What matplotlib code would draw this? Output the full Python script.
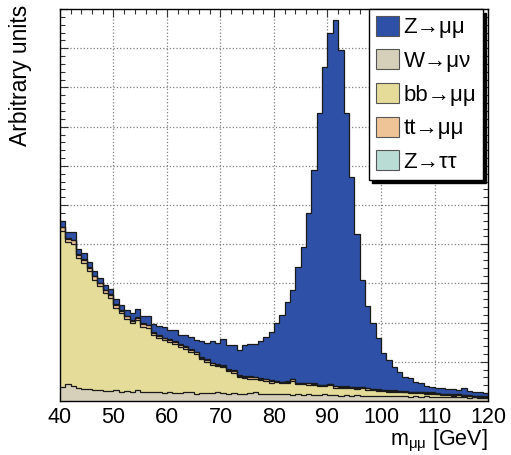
import numpy as np
import matplotlib
matplotlib.use("Agg")
import matplotlib.pyplot as plt
from matplotlib.patches import Patch
from matplotlib.ticker import MultipleLocator

plt.rcParams['font.family'] = ['Liberation Sans', 'DejaVu Sans']
plt.rcParams['mathtext.default'] = 'regular'

# bin edges, 1 GeV bins from 40 to 120
edges = np.arange(40, 121, 1)

# per-bin contents (arbitrary units)
w_munu = [0.36, 0.43, 0.39, 0.32, 0.31, 0.30, 0.28, 0.29, 0.26, 0.25,
          0.27, 0.24, 0.25, 0.23, 0.27, 0.24, 0.23, 0.22, 0.22, 0.21,
          0.22, 0.21, 0.20, 0.22, 0.23, 0.19, 0.20, 0.20, 0.21, 0.24,
          0.20, 0.19, 0.20, 0.18, 0.19, 0.20, 0.22, 0.18, 0.19, 0.18,
          0.18, 0.17, 0.18, 0.16, 0.17, 0.16, 0.17, 0.15, 0.16, 0.18,
          0.15, 0.16, 0.14, 0.15, 0.14, 0.15, 0.13, 0.14, 0.13, 0.14,
          0.13, 0.12, 0.13, 0.12, 0.14, 0.11, 0.12, 0.11, 0.12, 0.10,
          0.11, 0.10, 0.11, 0.09, 0.10, 0.09, 0.08, 0.09, 0.08, 0.07]

bb_mumu = [3.98, 3.62, 3.62, 3.33, 3.22, 3.02, 2.82, 2.64, 2.49, 2.38,
           2.11, 2.00, 1.85, 1.76, 1.80, 1.66, 1.64, 1.47, 1.39, 1.34,
           1.28, 1.24, 1.18, 1.11, 1.02, 1.01, 0.86, 0.80, 0.71, 0.65,
           0.66, 0.57, 0.52, 0.42, 0.39, 0.37, 0.34, 0.35, 0.32, 0.29,
           0.30, 0.28, 0.28, 0.36, 0.26, 0.27, 0.25, 0.26, 0.22, 0.19,
           0.25, 0.18, 0.19, 0.18, 0.18, 0.16, 0.19, 0.15, 0.14, 0.12,
           0.12, 0.12, 0.11, 0.11, 0.08, 0.10, 0.08, 0.09, 0.07, 0.09,
           0.06, 0.06, 0.05, 0.05, 0.05, 0.04, 0.04, 0.02, 0.02, 0.02]

tt_mumu = [0.09, 0.09, 0.09, 0.08, 0.08, 0.08, 0.08, 0.07, 0.07, 0.07,
           0.07, 0.06, 0.06, 0.06, 0.06, 0.06, 0.06, 0.05, 0.05, 0.05,
           0.05, 0.05, 0.05, 0.05, 0.05, 0.04, 0.04, 0.04, 0.04, 0.04,
           0.04, 0.04, 0.04, 0.04, 0.04, 0.04, 0.04, 0.04, 0.04, 0.04,
           0.03, 0.03, 0.03, 0.03, 0.03, 0.03, 0.03, 0.03, 0.03, 0.03,
           0.03, 0.03, 0.03, 0.03, 0.03, 0.03, 0.03, 0.03, 0.03, 0.03,
           0.02, 0.02, 0.02, 0.02, 0.02, 0.02, 0.02, 0.02, 0.02, 0.02,
           0.02, 0.02, 0.02, 0.02, 0.02, 0.02, 0.02, 0.02, 0.02, 0.02]

z_tautau = [0.02, 0.02, 0.02, 0.02, 0.02, 0.02, 0.02, 0.02, 0.02, 0.02,
            0.02, 0.02, 0.02, 0.02, 0.02, 0.02, 0.02, 0.02, 0.02, 0.02,
            0.02, 0.02, 0.02, 0.02, 0.02, 0.02, 0.02, 0.02, 0.02, 0.02,
            0.02, 0.02, 0.02, 0.02, 0.02, 0.02, 0.02, 0.02, 0.02, 0.02,
            0.01, 0.01, 0.01, 0.01, 0.01, 0.01, 0.01, 0.01, 0.01, 0.01,
            0.01, 0.01, 0.01, 0.01, 0.01, 0.01, 0.01, 0.01, 0.01, 0.01,
            0.01, 0.01, 0.01, 0.01, 0.01, 0.01, 0.01, 0.01, 0.01, 0.01,
            0.01, 0.01, 0.01, 0.01, 0.01, 0.01, 0.01, 0.01, 0.01, 0.01]

z_mumu = [0.15, 0.16, 0.18, 0.13, 0.14, 0.13, 0.12, 0.13, 0.12, 0.15,
          0.13, 0.14, 0.14, 0.17, 0.20, 0.19, 0.22, 0.20, 0.24, 0.26,
          0.24, 0.29, 0.23, 0.28, 0.32, 0.30, 0.40, 0.42, 0.56, 0.53,
          0.65, 0.61, 0.65, 0.64, 0.79, 0.82, 0.83, 0.93, 1.07, 1.24,
          1.46, 1.70, 2.03, 2.27, 2.96, 3.47, 4.33, 5.44, 6.92, 8.12,
          8.94, 9.34, 8.58, 6.97, 5.36, 3.90, 2.74, 2.09, 1.67, 1.30,
          0.94, 0.78, 0.61, 0.49, 0.35, 0.34, 0.25, 0.23, 0.16, 0.14,
          0.12, 0.13, 0.11, 0.13, 0.11, 0.16, 0.10, 0.10, 0.09, 0.09]

colors = {'zmm': '#2e50a6', 'wmn': '#d6cfb9', 'bb': '#e4dc98',
          'tt': '#efc597', 'ztt': '#b9dcd5'}
names = {'zmm': 'Z\u2192\u03bc\u03bc', 'wmn': 'W\u2192\u03bc\u03bd',
         'bb': 'bb\u2192\u03bc\u03bc', 'tt': 'tt\u2192\u03bc\u03bc',
         'ztt': 'Z\u2192\u03c4\u03c4'}

# stacking order bottom -> top
stack = [('wmn', w_munu), ('bb', bb_mumu), ('tt', tt_mumu),
         ('ztt', z_tautau), ('zmm', z_mumu)]
legend_order = ['zmm', 'wmn', 'bb', 'tt', 'ztt']

fig = plt.figure(figsize=(5.11, 4.55), dpi=100)
ax = fig.add_axes([0.1174, 0.1187, 0.8376, 0.8613])

bottom = np.zeros(len(edges) - 1)
for key, vals in stack:
    top = bottom + np.array(vals)
    ax.stairs(top, edges, baseline=bottom, fill=True, color=colors[key], lw=0, zorder=2)
    ax.stairs(top, edges, baseline=None, color='#1a1a1a', lw=0.9, zorder=3)
    bottom = top

ax.set_xlim(40, 120)
ax.set_ylim(0, 10)

# dotted grid under the histograms
for x in range(50, 120, 10):
    ax.axvline(x, color='#808080', ls=':', lw=0.9, zorder=0.5)
for y in range(1, 10):
    ax.axhline(y, color='#808080', ls=':', lw=0.9, zorder=0.5)

ax.xaxis.set_major_locator(MultipleLocator(10))
ax.xaxis.set_minor_locator(MultipleLocator(2))
ax.yaxis.set_major_locator(MultipleLocator(1))
ax.yaxis.set_minor_locator(MultipleLocator(0.2))
ax.tick_params(which='both', direction='in', top=True, right=True,
               labelleft=False, width=0.8, color='#333333')
ax.tick_params(which='major', length=6)
ax.tick_params(which='minor', length=3.6)
ax.tick_params(axis='x', labelsize=15.5, pad=4)
for sp in ax.spines.values():
    sp.set_linewidth(1.0)

ax.set_xlabel('m$_{\u03bc\u03bc}$ [GeV]', fontsize=15.5, loc='right', labelpad=0)
ax.set_ylabel('Arbitrary units', fontsize=16.5, loc='top')
ax.yaxis.set_label_coords(-0.066, 1.01)

handles = [Patch(facecolor=colors[k], edgecolor='#555555', lw=0.8) for k in legend_order]
labels = [names[k] for k in legend_order]
leg = ax.legend(handles, labels, loc='upper right', bbox_to_anchor=(0.988, 1.0),
                borderaxespad=0, fontsize=16, fancybox=False, framealpha=1,
                edgecolor='black', handlelength=1.05, handleheight=1.0,
                handletextpad=0.2, labelspacing=0.5, borderpad=0.3,
                shadow={'color': 'black', 'alpha': 1, 'ox': 2.5, 'oy': -2.5})
leg.get_frame().set_linewidth(1.0)
leg.set_zorder(5)

fig.savefig('out.png', dpi=100)
